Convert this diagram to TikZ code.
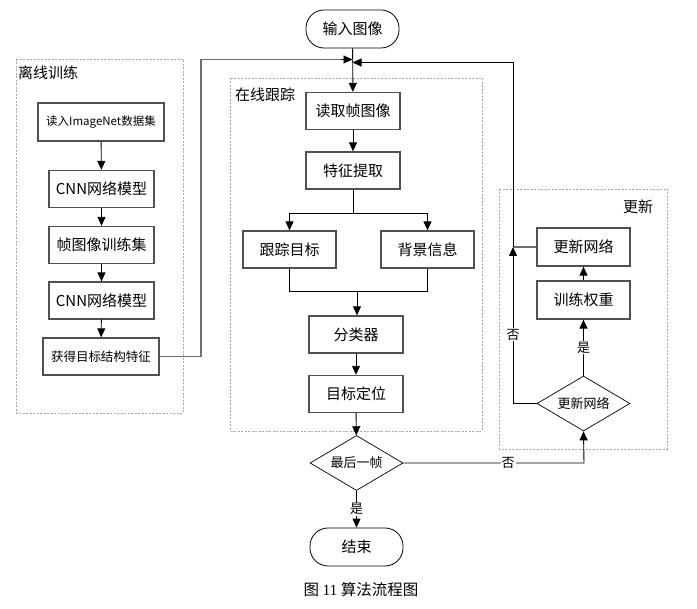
\documentclass[tikz,border=0pt]{standalone}
\usepackage{fontspec}
\setmainfont{Noto Sans CJK SC}
\newfontfamily\latinserif{Liberation Serif}
\usetikzlibrary{arrows.meta,shapes.geometric,positioning}
\definecolor{boxline}{HTML}{505050}
\definecolor{grpline}{HTML}{A8A8A8}
\definecolor{grayline}{HTML}{707070}
\tikzset{
  stepbox/.style={draw=boxline, line width=1.3pt, minimum width=#1, minimum height=37pt, inner sep=0pt, font=\fontsize{15}{15}\selectfont},
  stepbox/.default=94pt,
  termbox/.style={draw=black, line width=0.8pt, rounded corners=18pt, minimum width=93pt, minimum height=38pt, inner sep=0pt, font=\fontsize{15}{15}\selectfont},
  decbox/.style={draw=black, line width=0.7pt, diamond, aspect=1.69, minimum width=93pt, minimum height=55pt, inner sep=0pt, font=\fontsize{13}{13}\selectfont},
  group/.style={draw=grpline, line width=0.6pt, dash pattern=on 2pt off 1.5pt},
  grouplabel/.style={anchor=west, inner sep=0pt, font=\fontsize{15}{15}\selectfont},
  conn/.style={draw=black, line width=0.9pt, -{Triangle[length=9pt,width=8pt]}},
  plain/.style={draw=black, line width=0.9pt},
  grayconn/.style={draw=grayline, line width=1.5pt},
  lbl/.style={fill=white, inner sep=1pt, font=\fontsize{13}{13}\selectfont}
}
\begin{document}
\begin{tikzpicture}[x=1pt,y=-1pt]
\useasboundingbox (0,0) rectangle (697,609);
% groups
\draw[group] (16,59) rectangle (183,413);
\node[grouplabel] (gOff) at (18,73) {离线训练};
\draw[group] (230,78) rectangle (482,431);
\node[grouplabel] (gOn) at (235,95) {在线跟踪};
\draw[group] (499,189) rectangle (667,449);
\node[grouplabel] (gUp) at (623,207) {更新};
% offline
\node[stepbox=126pt, minimum height=38pt, font=\fontsize{11.5}{11.5}\selectfont] (r1) at (101,122) {读入ImageNet数据集};
\node[stepbox=105pt] (cnn1) at (101.5,189) {CNN网络模型};
\node[stepbox=105pt] (frm) at (101.5,245) {帧图像训练集};
\node[stepbox=105pt] (cnn2) at (101.5,300.5) {CNN网络模型};
\node[stepbox=116pt, font=\fontsize{12.5}{12.5}\selectfont] (feat0) at (101,356.5) {获得目标结构特征};
\draw[conn] (r1) -- (cnn1);
\draw[conn] (cnn1) -- (frm);
\draw[conn] (frm) -- (cnn2);
\draw[conn] (cnn2) -- (feat0);
% online
\node[termbox] (start) at (352.5,29) {输入图像};
\node[stepbox] (read) at (353,111) {读取帧图像};
\node[stepbox] (fe) at (353,170.5) {特征提取};
\node[stepbox=93pt] (trk) at (289.5,249.5) {跟踪目标};
\node[stepbox=93pt] (bg) at (427.5,249.5) {背景信息};
\node[stepbox] (cls) at (356,334.5) {分类器};
\node[stepbox] (loc) at (356,394) {目标定位};
\node[decbox] (last) at (356.5,463) {最后一帧};
\node[termbox] (end) at (356.5,547) {结束};
\coordinate (mL) at (352.5,59.5);
\coordinate (mR) at (352.5,62.5);
\draw[conn] (start) -- (read);
\draw[conn] (read) -- (fe);
\coordinate (split) at (353,213);
\draw[plain] (fe.south) -- (split);
\draw[conn] (split) -| (trk.north);
\draw[conn] (split) -| (bg.north);
\coordinate (join) at (357,291);
\draw[plain] (trk.south) |- (join);
\draw[plain] (bg.south) |- (join);
\draw[conn] (join) -- (cls.north -| join);
\draw[conn] (cls) -- (loc);
\draw[conn] (loc) -- (last);
\draw[conn] (last) -- node[lbl, pos=0.5] (yes1) {是} (end);
% offline -> online
\coordinate (oc) at (201,356.5);
\draw[grayconn] (feat0.east) -- (oc) |- (mL);
\draw[conn, draw=black] ([xshift=-12pt]mL) -- (mL);
% update
\node[stepbox=93pt, minimum height=38pt] (upn) at (583.5,247) {更新网络};
\node[stepbox=93pt, minimum height=38pt] (tw) at (583.5,300) {训练权重};
\node[decbox] (upd) at (583.5,403.5) {更新网络};
\draw[conn] (tw) -- (upn);
\draw[conn] (upd) -- node[lbl, pos=0.5] (yes2) {是} (tw);
\draw[conn] (last.east) -- node[lbl, pos=0.58] (no1) {否} (584,463) -- (upd.south);
\coordinate (vj) at (513,247);
\draw[conn] (upd.west) -| node[lbl, pos=0.72] (no2) {否} (vj);
\draw[draw=grayline, line width=1.3pt] (upn.west) -- (vj);
\draw[conn] (vj) |- (mR);
% caption
\node[inner sep=0pt, font=\fontsize{15.5}{15.5}\selectfont] (cap) at (361,590) {图 {\latinserif 11} 算法流程图};
\end{tikzpicture}
\end{document}
